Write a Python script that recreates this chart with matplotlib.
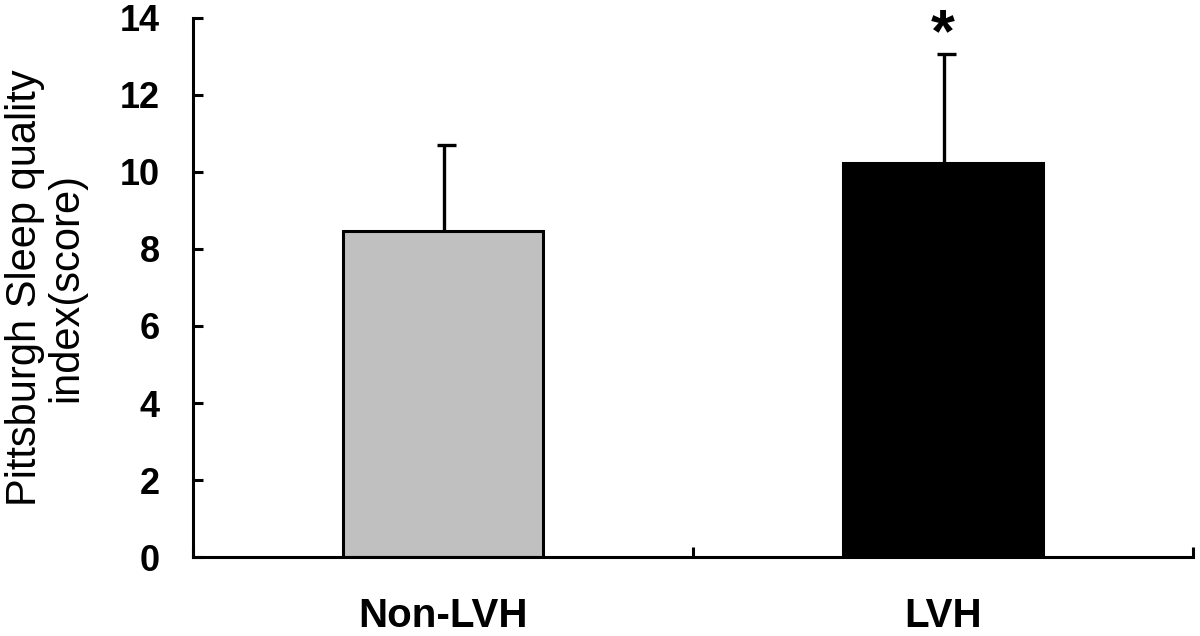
import numpy as np
import matplotlib.pyplot as plt

plt.rcParams["font.family"] = ["Liberation Sans", "DejaVu Sans"]

groups = ["Non-LVH", "LVH"]
means = [8.47, 10.23]
sds = [2.23, 2.83]
colors = ["#c0c0c0", "#000000"]
yticks = [0, 2, 4, 6, 8, 10, 12, 14]

x = np.array([0.5, 1.5])

fig = plt.figure(figsize=(12, 6.36), dpi=100)
ax = fig.add_axes([0.161, 0.124, 0.833, 0.848])

ax.bar(x, means, width=0.4, color=colors, edgecolor="black", linewidth=2.2, zorder=2)

# upper error bar only, with a lopsided cap like the original
tops = np.array(means) + np.array(sds)
ax.vlines(x + 0.002, means, tops, color="black", linewidth=2.4, zorder=1)
ax.hlines(tops, x - 0.012, x + 0.026, color="black", linewidth=2.4, zorder=1)

ax.text(x[1], 13.13, "*", ha="center", va="baseline", fontsize=44, fontweight="bold")

ax.set_xlim(0, 2)
ax.set_ylim(0, 14)
ax.set_yticks(yticks)
ax.set_xticks([0, 1, 2])
ax.set_xticklabels([])
ax.set_xticks(x, minor=True)
ax.set_xticklabels(groups, minor=True, fontsize=29, fontweight="bold")
ax.tick_params(axis="x", which="minor", length=0, pad=29)
ax.tick_params(axis="x", which="major", direction="in", length=7, width=2.2)
ax.tick_params(axis="y", direction="in", length=7, width=2.2, pad=24, labelsize=26)
for lab in ax.get_yticklabels():
    lab.set_fontweight("bold")

for side in ["top", "right"]:
    ax.spines[side].set_visible(False)
for side in ["left", "bottom"]:
    ax.spines[side].set_linewidth(2.2)

ax.set_ylabel("Pittsburgh Sleep quality\nindex(score)", fontsize=30, labelpad=24, linespacing=1.05)

fig.savefig("out.png", dpi=100)
